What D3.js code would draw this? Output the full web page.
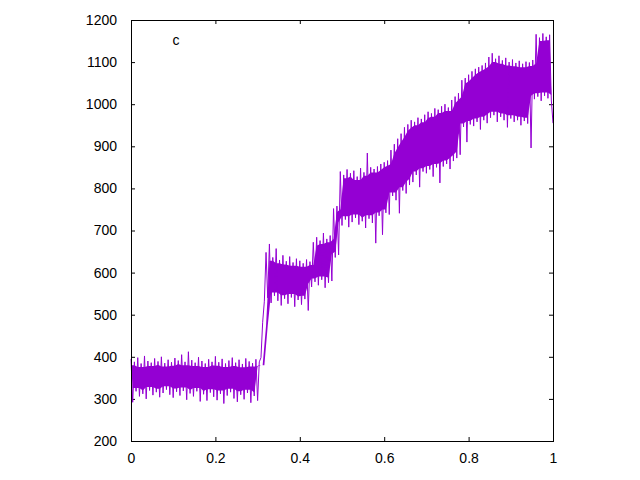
<!DOCTYPE html>
<html>
<head>
<meta charset="utf-8">
<script src="https://cdn.jsdelivr.net/npm/d3@7"></script>
<style>
    body { margin: 0; background: #ffffff; }
    text { font-family: "Liberation Sans", Arial, sans-serif; font-size: 14px; fill: #000000; }
</style>
</head>
<body>
<div id="chart"></div>
<script>
// signal read off the picture, sampled every 0.004 on x
// even samples = upper envelope, odd samples = lower envelope
const signal = [
    395, 292, 388, 318, 398, 306, 384, 312, 402, 300, 390, 320, 386, 309, 396, 316, 389, 304, 400, 314, 385, 322, 393, 310, 387,
    303, 397, 317, 391, 308, 405, 319, 388, 298, 412, 313, 392, 306, 386, 318, 399, 294, 390, 311, 384, 296, 394, 315, 388, 305,
    401, 297, 387, 312, 395, 289, 384, 308, 391, 316, 398, 301, 386, 293, 393, 310, 383, 299, 396, 314, 389, 291, 385, 307, 394,
    296, 388, 398, 482, 532, 648, 540, 668, 528, 636, 545, 657, 533, 630, 522, 641, 538, 627, 526, 638, 541, 624, 519, 633, 535,
    628, 524, 622, 537, 631, 510, 626, 566, 672, 578, 684, 570, 676, 583, 694, 564, 680, 576, 688, 580, 752, 636, 758, 642, 840,
    712, 832, 726, 845, 708, 836, 720, 842, 730, 828, 714, 848, 722, 838, 706, 884, 728, 850, 718, 846, 670, 852, 735, 858, 690,
    862, 742, 866, 738, 891, 782, 905, 772, 918, 741, 930, 795, 945, 788, 952, 808, 962, 815, 958, 832, 968, 803, 965, 840, 975,
    836, 982, 845, 978, 828, 990, 850, 987, 813, 995, 852, 1000, 858, 992, 846, 1010, 865, 1018, 872, 1026, 880, 1057, 946, 1062,
    910, 1070, 952, 1078, 948, 1084, 958, 1088, 940, 1092, 962, 1098, 955, 1112, 968, 1121, 974, 1108, 958, 1115, 970, 1104, 962,
    1110, 945, 1100, 966, 1106, 958, 1098, 962, 1103, 950, 1096, 960, 1101, 954, 1099, 896, 1105, 1012, 1166, 1018, 1158, 1008,
    1168, 1020, 1160, 1014, 1165, 1010, 955
];

const xTicks = [0, 0.2, 0.4, 0.6, 0.8, 1];
const xTickLabels = ["0", "0.2", "0.4", "0.6", "0.8", "1"];
const yTicks = [200, 300, 400, 500, 600, 700, 800, 900, 1000, 1100, 1200];
const keyTitle = "c";
const lineColor = "#9400d3";

const width = 640;
const height = 480;
const padding = {top: 20, right: 87, bottom: 39, left: 131};
const tickLen = 4;
const coreInset = 8; // how far the solid core sits inside the spikes (data units)

let xScale = d3.scaleLinear()
    .domain([0, 1])
    .range([padding.left, width - padding.right]);

let yScale = d3.scaleLinear()
    .domain([200, 1200])
    .range([height - padding.bottom, padding.top]);

let svg = d3.select("#chart")
    .append("svg")
    .attr("width", width)
    .attr("height", height);

function sampleX(i) {
    return xScale(i / (signal.length - 1));
}

// Draws ticks on both sides (gnuplot mirrors them) plus the labels
function drawAxes(svg) {
    let axes = svg.append('g')
        .attr('class', 'axes');

    axes.append("g")
        .attr("transform", "translate(0, " + yScale(200) + ")")
        .call(d3.axisBottom(xScale)
            .tickValues(xTicks)
            .tickSizeInner(-tickLen)
            .tickSizeOuter(0)
            .tickPadding(12)
            .tickFormat(function (d, i) { return xTickLabels[i]; }));

    axes.append("g")
        .attr("transform", "translate(0, " + yScale(1200) + ")")
        .call(d3.axisTop(xScale)
            .tickValues(xTicks)
            .tickSizeInner(-tickLen)
            .tickSizeOuter(0)
            .tickFormat(''));

    axes.append("g")
        .attr("transform", "translate(" + xScale(0) + ", 0)")
        .call(d3.axisLeft(yScale)
            .tickValues(yTicks)
            .tickSizeInner(-tickLen)
            .tickSizeOuter(0)
            .tickPadding(14)
            .tickFormat(d3.format("d")));

    axes.append("g")
        .attr("transform", "translate(" + xScale(1) + ", 0)")
        .call(d3.axisRight(yScale)
            .tickValues(yTicks)
            .tickSizeInner(-tickLen)
            .tickSizeOuter(0)
            .tickFormat(''));

    axes.selectAll(".domain").remove();
    axes.selectAll(".tick line").attr("stroke", "#000000");
    axes.selectAll(".tick text")
        .style("font-family", "'Liberation Sans', Arial, sans-serif")
        .style("font-size", "14px");
}

// frame around the plot
function drawBorder(svg) {
    svg.append("rect")
        .attr("x", xScale(0))
        .attr("y", yScale(1200))
        .attr("width", xScale(1) - xScale(0))
        .attr("height", yScale(200) - yScale(1200))
        .attr("fill", "none")
        .attr("stroke", "#000000")
        .attr("stroke-width", 1)
        .attr("shape-rendering", "crispEdges");
}

// lowest neighbouring peak / highest neighbouring trough, so the solid core
// stays inside the spikes and the trace itself draws the ragged fringe
function coreTop(k) {
    let peaks = [signal[k - 2], signal[k], signal[k + 2]].filter(function (v, j) {
        return v !== undefined && k - 2 + 2 * j <= signal.length - 3;
    });
    return d3.min(peaks) - coreInset;
}

function coreBottom(k) {
    let troughs = [signal[k - 1], signal[k + 1], signal[k + 3]].filter(function (v, j) {
        return v !== undefined && k - 1 + 2 * j <= signal.length - 2;
    });
    // at the jumps the neighbours cross over: collapse the core there
    return Math.min(d3.max(troughs) + coreInset, coreTop(k));
}

function drawSignal(svg) {
    let pairs = d3.range(0, signal.length - 1, 2);

    let band = d3.area()
        .x1(function (k) { return sampleX(k); })
        .y1(function (k) { return yScale(coreTop(k)); })
        .x0(function (k) { return sampleX(k + 1); })
        .y0(function (k) { return yScale(coreBottom(k)); });

    svg.append("path")
        .datum(pairs)
        .attr("class", "band")
        .attr("fill", lineColor)
        .attr("d", band);

    let line = d3.line()
        .x(function (d, i) { return sampleX(i); })
        .y(function (d) { return yScale(d); });

    svg.append("path")
        .datum(signal)
        .attr("class", "signal")
        .attr("fill", "none")
        .attr("stroke", lineColor)
        .attr("stroke-width", 1)
        .attr("d", line);
}

drawAxes(svg);
drawSignal(svg);
drawBorder(svg);

svg.append("text")
    .attr("x", 176)
    .attr("y", 45)
    .style("text-anchor", "middle")
    .text(keyTitle);
</script>
</body>
</html>
